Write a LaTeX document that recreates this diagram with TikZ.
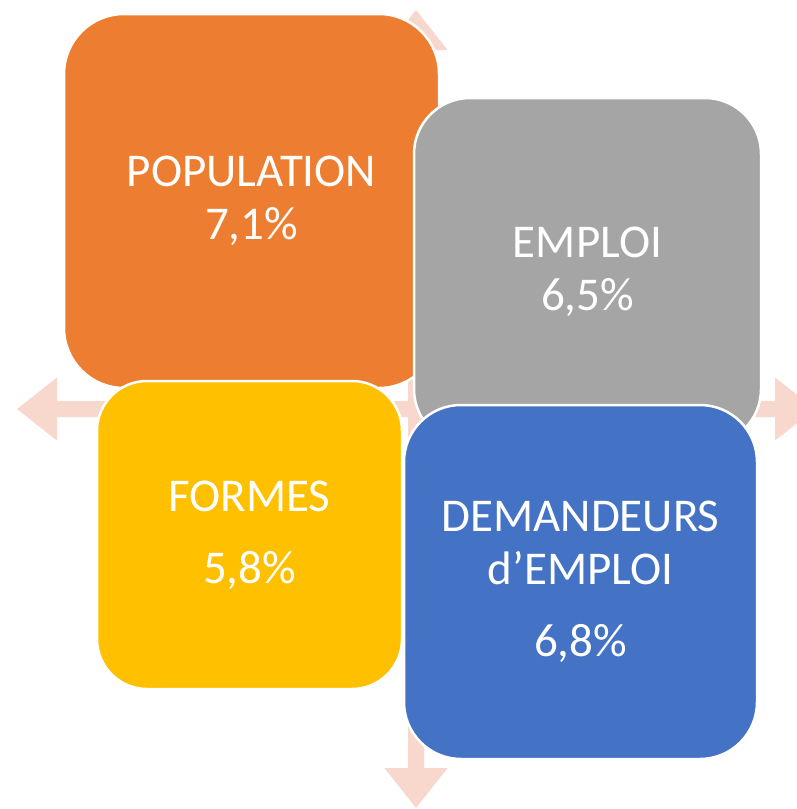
\documentclass[tikz,border=0pt]{standalone}
\usepackage{fontspec}
\setmainfont{Carlito}
\definecolor{corange}{HTML}{ED7D31}
\definecolor{cgray}{HTML}{A5A5A5}
\definecolor{cyellow}{HTML}{FFC000}
\definecolor{cblue}{HTML}{4472C4}
\definecolor{carrow}{HTML}{F8D7CD}
\tikzset{
  box/.style={draw=white, line width=2.5pt, text=white, align=center, inner sep=0pt,
    font=\fontsize{47}{53}\selectfont},
  arrowshape/.style={fill=carrow, draw=none}
}
\begin{document}
\begin{tikzpicture}[x=1pt,y=-1pt]
\useasboundingbox (0,0) rectangle (796,809);
\fill[white] (0,0) rectangle (796,809);
\coordinate (C) at (416,409);
% four-way arrow
\fill[carrow] (C)
  ++(8,-8) -- ++(0,-351) -- ++(23.5,0) -- ++(-31.5,-40) -- ++(-31.5,40) -- ++(23.5,0) -- ++(0,351)
  -- ++(-351,0) -- ++(0,-23.5) -- ++(-40,31.5) -- ++(40,31.5) -- ++(0,-23.5) -- ++(351,0)
  -- ++(0,351) -- ++(-23.5,0) -- ++(31.5,40) -- ++(31.5,-40) -- ++(-23.5,0) -- ++(0,-351)
  -- ++(351,0) -- ++(0,23.5) -- ++(40,-31.5) -- ++(-40,-31.5) -- ++(0,23.5) -- cycle;
% boxes
\node[box, fill=corange, rounded corners=60pt, minimum width=375pt, minimum height=374pt]
  (pop) at (251.5,201) {POPULATION\\7,1\%};
\node[box, fill=cgray, rounded corners=56pt, minimum width=347pt, minimum height=347pt]
  (emp) at (587.5,271.5) {EMPLOI\\6,5\%};
\node[box, fill=cyellow, rounded corners=50pt, minimum width=305pt, minimum height=308pt]
  (for) at (249.5,535) {FORMES\\[19pt]5,8\%};
\node[box, fill=cblue, rounded corners=57pt, minimum width=353pt, minimum height=354pt]
  (dem) at (580.5,582) {DEMANDEURS\\d’EMPLOI\\[19pt]6,8\%};
\end{tikzpicture}
\end{document}
